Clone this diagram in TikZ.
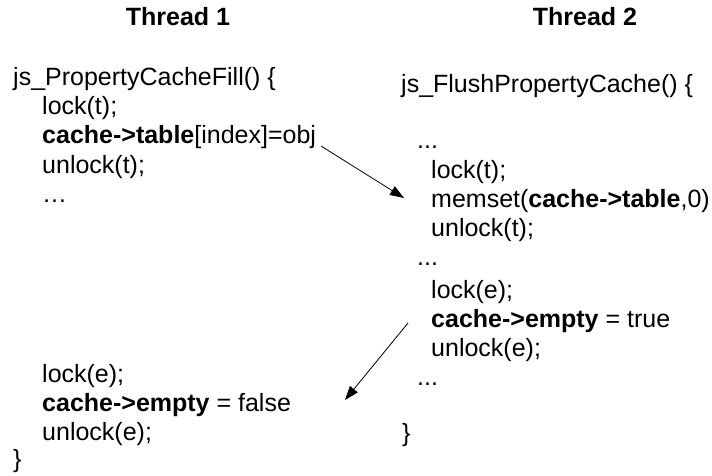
\documentclass[tikz,border=0pt]{standalone}
\usepackage{fontspec}
\setmainfont{Liberation Sans}
\usetikzlibrary{arrows.meta}
\tikzset{
  codeline/.style={anchor=base west, inner sep=0pt, font=\fontsize{25}{30}\selectfont},
  headline/.style={anchor=base, inner sep=0pt, font=\bfseries\fontsize{25}{30}\selectfont},
  flowarrow/.style={line width=0.8pt, -{Triangle[length=14pt,width=10pt]}}
}
\begin{document}
\begin{tikzpicture}[x=1pt,y=-1pt]
\useasboundingbox (0,0) rectangle (712,476);
% headings
\node[headline] (h1) at (178,26) {Thread 1};
\node[headline] (h2) at (585,26) {Thread 2};
% thread 1
\node[codeline] (l0) at (13,86) {js\_PropertyCacheFill() \{};
\node[codeline] (l1) at (42,115) {lock(t);};
\node[codeline] (l2) at (42,144) {\textbf{cache->table}[index]=obj};
\node[codeline] (l3) at (42,173) {unlock(t);};
\node[codeline] (l4) at (42,202) {…};
\node[codeline] (l5) at (42,382) {lock(e);};
\node[codeline] (l6) at (42,411) {\textbf{cache->empty} = false};
\node[codeline] (l7) at (42,440) {unlock(e);};
\node[codeline] (l8) at (13,467) {\}};
% thread 2
\node[codeline] (r0) at (401,93) {js\_FlushPropertyCache() \{};
\node[codeline] (r1) at (417,149) {...};
\node[codeline] (r2) at (431,178) {lock(t);};
\node[codeline] (r3) at (431,207) {memset(\textbf{cache->table},0)};
\node[codeline] (r4) at (431,236) {unlock(t);};
\node[codeline] (r5) at (417,265) {...};
\node[codeline] (r6) at (431,298) {lock(e);};
\node[codeline] (r7) at (431,327) {\textbf{cache->empty} = true};
\node[codeline] (r8) at (431,356) {unlock(e);};
\node[codeline] (r9) at (417,385) {...};
\node[codeline] (r10) at (402,441) {\}};
% arrows
\coordinate (a1s) at (321,146);
\coordinate (a1e) at (404,198);
\coordinate (a2s) at (408,323);
\coordinate (a2e) at (345,400);
\draw[flowarrow] (a1s) -- (a1e);
\draw[flowarrow] (a2s) -- (a2e);
\end{tikzpicture}
\end{document}
